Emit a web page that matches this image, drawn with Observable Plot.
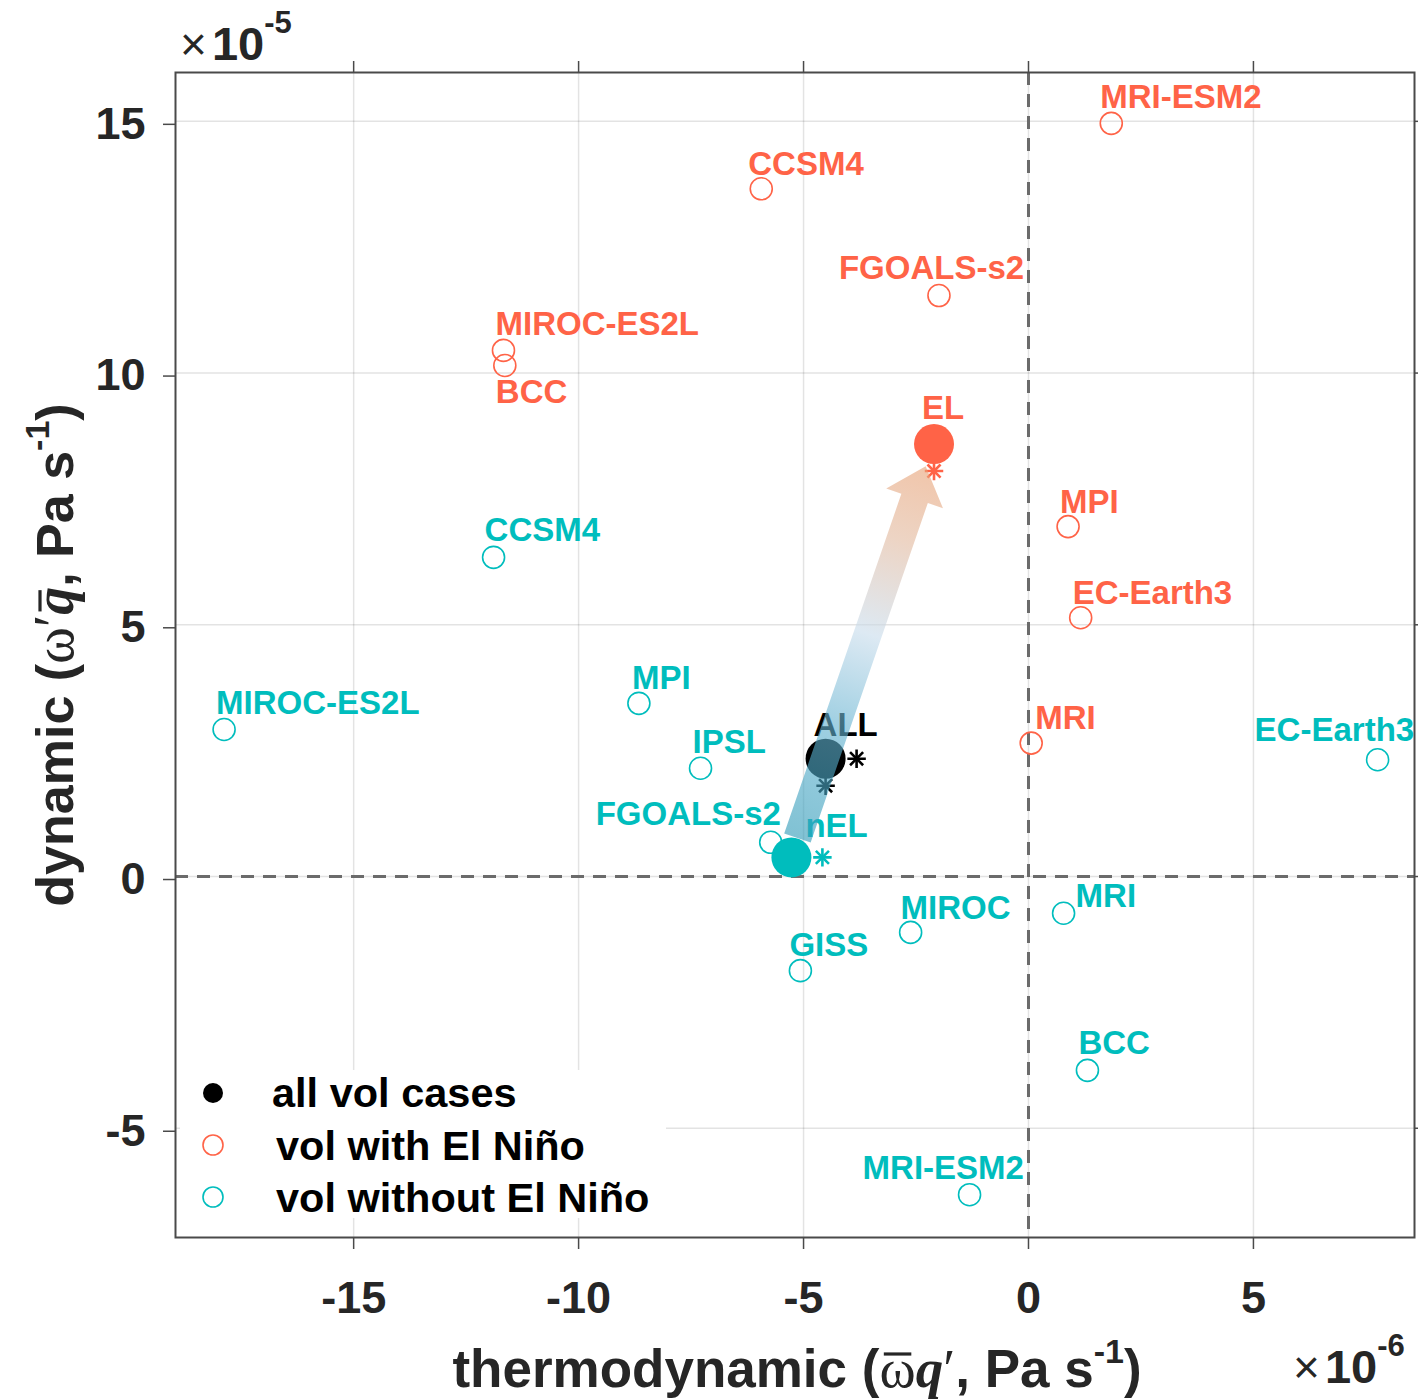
<!DOCTYPE html>
<html><head><meta charset="utf-8">
<script src="https://cdn.jsdelivr.net/npm/d3@7"></script>
<script src="https://cdn.jsdelivr.net/npm/@observablehq/plot@0.6"></script>
<style>body{margin:0;background:#fff} #chart svg{display:block}</style>
</head><body><div id="chart"></div>
<script>
// ---------- data (units: x ×1e-6, y ×1e-5 Pa s^-1) ----------
const xTicks = [-15, -10, -5, 0, 5];
const yTicks = [-5, 0, 5, 10, 15];

const elModels = ["MRI-ESM2", "CCSM4", "FGOALS-s2", "MIROC-ES2L", "BCC", "MPI", "EC-Earth3", "MRI"];
const elX      = [1.84, -5.94, -1.99, -11.67, -11.64, 0.88, 1.16, 0.06];
const elY      = [14.96, 13.66, 11.54, 10.45, 10.15, 6.95, 5.14, 2.65];

const nelModels = ["CCSM4", "MIROC-ES2L", "MPI", "IPSL", "FGOALS-s2", "MIROC", "GISS", "MRI", "BCC", "MRI-ESM2", "EC-Earth3"];
const nelX      = [-11.89, -17.88, -8.66, -7.29, -5.73, -2.62, -5.07, 0.78, 1.31, -1.31, 7.76];
const nelY      = [6.34, 2.92, 3.44, 2.15, 0.68, -1.11, -1.87, -0.73, -3.85, -6.32, 2.32];

const compNames     = ["ALL", "EL", "nEL"];
const compX         = [-4.51, -2.10, -5.27];
const compY         = [2.34, 8.59, 0.38];
const compStarRight = [true, false, true];
const compStarBelow = [true, true, false];

const legendLabels = ["all vol cases", "vol with El Niño", "vol without El Niño"];

// ---------- styles ----------
const RED = "#FF6347", CYAN = "#00BDBD", BLACK = "#000000";
const compColor = {ALL: BLACK, EL: RED, nEL: CYAN};
const FONT = "'Liberation Sans', Arial, Helvetica, sans-serif";
const SERIF = "'Liberation Serif', 'Times New Roman', serif";
// label nudges in pixels [dx, dy] (text start, baseline) relative to the point
const defaultNudge = [-9, -15];
const labelNudge = {
  "EL|MRI-ESM2": [-11, -15], "EL|CCSM4": [-13, -14], "EL|FGOALS-s2": [-100, -17],
  "EL|MIROC-ES2L": [-8, -15], "EL|BCC": [-9, 37], "EL|MPI": [-8, -14],
  "EL|EC-Earth3": [-8, -14], "EL|MRI": [4, -14],
  "nEL|CCSM4": [-9, -16], "nEL|MIROC-ES2L": [-8, -16], "nEL|MPI": [-7, -14],
  "nEL|IPSL": [-8, -15], "nEL|FGOALS-s2": [-175, -17], "nEL|MIROC": [-10, -13],
  "nEL|GISS": [-11, -15], "nEL|MRI": [12, -6], "nEL|BCC": [-9, -16],
  "nEL|MRI-ESM2": [-107, -16], "nEL|EC-Earth3": [-123, -19],
  "comp|ALL": [-12, -23], "comp|EL": [-12, -25], "comp|nEL": [14, -20]
};

// ---------- tables ----------
const el  = elModels.map((m, i) => ({name: m, x: elX[i], y: elY[i], group: "EL"}));
const nel = nelModels.map((m, i) => ({name: m, x: nelX[i], y: nelY[i], group: "nEL"}));
const comp = compNames.map((m, i) => ({name: m, x: compX[i], y: compY[i], right: compStarRight[i], below: compStarBelow[i], color: compColor[m]}));
const byName = Object.fromEntries(comp.map(d => [d.name, d]));

function labelMarks(rows, key, colorOf) {
  return rows.map(d => {
    const [dx, dy] = labelNudge[key + "|" + d.name] || defaultNudge;
    return Plot.text([d], {x: "x", y: "y", text: "name", dx, dy, textAnchor: "start", lineAnchor: "bottom",
      fill: colorOf(d), fontSize: 33, fontWeight: "bold", fontFamily: FONT});
  });
}

// gradient arrow from the non-El Niño composite to the El Niño composite
function arrowRender(index, scales, values) {
  const i = index[0];
  const ax = values.x1[i], ay = values.y1[i], bx = values.x2[i], by = values.y2[i];
  const L = Math.hypot(bx - ax, by - ay);
  const ux = (bx - ax) / L, uy = (by - ay) / L, nx = -uy, ny = ux;
  const T = [ax + ux * 20, ay + uy * 20];
  const P = [bx - ux * 24, by - uy * 24];
  const headLen = 34, shaft = 14, head = 30;
  const B = [P[0] - ux * headLen, P[1] - uy * headLen];
  const pts = [
    [T[0] + nx * shaft, T[1] + ny * shaft], [B[0] + nx * shaft, B[1] + ny * shaft],
    [B[0] + nx * head, B[1] + ny * head], P,
    [B[0] - nx * head, B[1] - ny * head], [B[0] - nx * shaft, B[1] - ny * shaft],
    [T[0] - nx * shaft, T[1] - ny * shaft]
  ];
  const g = d3.create("svg:g");
  const grad = g.append("defs").append("linearGradient").attr("id", "arrowGrad")
    .attr("gradientUnits", "userSpaceOnUse")
    .attr("x1", T[0]).attr("y1", T[1]).attr("x2", P[0]).attr("y2", P[1]);
  [[0, "rgb(50,156,185)"], [0.3, "rgb(100,178,208)"], [0.55, "rgb(200,220,236)"], [0.8, "rgb(226,186,160)"], [1, "rgb(232,162,118)"]]
    .forEach(([o, c]) => grad.append("stop").attr("offset", o).attr("stop-color", c));
  g.append("path").attr("d", "M" + pts.map(p => p.join(",")).join("L") + "Z")
    .attr("fill", "url(#arrowGrad)").attr("fill-opacity", 0.62);
  return g.node();
}

const chart = Plot.plot({
  width: 1418, height: 1399,
  marginLeft: 175, marginRight: 4, marginTop: 72, marginBottom: 162,
  x: {domain: [-18.96, 8.58]},
  y: {domain: [-7.17, 15.97]},
  style: {fontFamily: FONT, fontWeight: "bold", color: "#262626", background: "#fff"},
  marks: [
    Plot.gridX(xTicks, {stroke: "#000", strokeOpacity: 0.11, strokeWidth: 1.5}),
    Plot.gridY(yTicks, {stroke: "#000", strokeOpacity: 0.11, strokeWidth: 1.5}),
    Plot.ruleX([0], {stroke: "#6b6b6b", strokeWidth: 3, strokeDasharray: "13,9"}),
    Plot.ruleY([0], {stroke: "#6b6b6b", strokeWidth: 3, strokeDasharray: "13,9"}),
    Plot.frame({stroke: "#4a4a4a", strokeWidth: 2}),
    Plot.axisX(xTicks, {anchor: "bottom", tickSize: 12, tickPadding: 32, tickFormat: d => String(d), fontSize: 45, fontWeight: "bold", fontFamily: FONT, label: null, stroke: "#4a4a4a", strokeWidth: 1.5}),
    Plot.axisX(xTicks, {anchor: "top", tickSize: 12, tickFormat: () => "", label: null, stroke: "#4a4a4a", strokeWidth: 1.5}),
    Plot.axisY(yTicks, {anchor: "left", tickSize: 12, tickPadding: 18, tickFormat: d => String(d), fontSize: 45, fontWeight: "bold", fontFamily: FONT, dy: 3, label: null, stroke: "#4a4a4a", strokeWidth: 1.5}),
    Plot.axisY(yTicks, {anchor: "right", tickSize: 12, tickFormat: () => "", label: null, stroke: "#4a4a4a", strokeWidth: 1.5}),
    // model points
    Plot.dot(el, {x: "x", y: "y", r: 11, stroke: RED, strokeWidth: 1.6, fill: "none"}),
    Plot.dot(nel, {x: "x", y: "y", r: 11, stroke: CYAN, strokeWidth: 1.6, fill: "none"}),
    ...labelMarks(el, "EL", () => RED),
    ...labelMarks(nel, "nEL", () => CYAN),
    ...labelMarks(comp, "comp", d => d.color),
    // composites
    Plot.dot(comp, {x: "x", y: "y", r: 20, fill: "color"}),
    Plot.dot(comp.filter(d => d.right), {x: "x", y: "y", dx: 31, symbol: "plus", r: 6, stroke: "color", strokeWidth: 2.6}),
    Plot.dot(comp.filter(d => d.right), {x: "x", y: "y", dx: 31, symbol: "times", r: 6, stroke: "color", strokeWidth: 2.6}),
    Plot.dot(comp.filter(d => d.below), {x: "x", y: "y", dy: 27, symbol: "plus", r: 6, stroke: "color", strokeWidth: 2.6}),
    Plot.dot(comp.filter(d => d.below), {x: "x", y: "y", dy: 27, symbol: "times", r: 6, stroke: "color", strokeWidth: 2.6}),
    Plot.link([{from: byName.nEL, to: byName.EL}], {
      x1: d => d.from.x, y1: d => d.from.y, x2: d => d.to.x, y2: d => d.to.y,
      stroke: "none", render: arrowRender
    })
  ]
});

document.getElementById("chart").appendChild(chart);

// ---------- annotations: exponents, axis titles, legend ----------
const svg = d3.select(chart);
const ann = svg.append("g").attr("font-family", FONT).attr("text-anchor", "start");

function exponent(x, y, exp) {
  const t = ann.append("text").attr("x", x).attr("y", y).attr("fill", "#262626").attr("text-anchor", "start");
  t.append("tspan").attr("font-weight", "normal").attr("font-size", 46).text("×");
  t.append("tspan").attr("font-weight", "bold").attr("font-size", 47).attr("dx", 5).text("10");
  t.append("tspan").attr("font-weight", "bold").attr("font-size", 31).attr("dy", -27).text(exp);
}
exponent(180, 60, "-5");
exponent(1293, 1383, "-6");

// overbar drawn above a given character of a text element (in the text's own coordinates)
function overbar(group, textSel, charIndex, lift) {
  const node = textSel.node();
  const e = node.getExtentOfChar(charIndex);
  const p = node.getStartPositionOfChar(charIndex);
  group.append("line")
    .attr("x1", e.x + e.width * 0.12).attr("x2", e.x + e.width * 0.88)
    .attr("y1", p.y - lift).attr("y2", p.y - lift)
    .attr("stroke", "#262626").attr("stroke-width", 3.2);
}

// x-axis title
{
  const g = ann.append("g");
  const t = g.append("text").attr("x", 797).attr("y", 1387).attr("text-anchor", "middle")
    .attr("font-size", 53).attr("font-weight", "bold").attr("fill", "#262626");
  t.append("tspan").text("thermodynamic (");
  t.append("tspan").attr("font-family", SERIF).attr("font-weight", "normal").attr("font-size", 55).text("ω");
  t.append("tspan").attr("font-family", SERIF).attr("font-style", "italic").attr("font-size", 55).text("q");
  t.append("tspan").attr("font-family", SERIF).attr("font-weight", "normal").attr("font-size", 55).text("′");
  t.append("tspan").text(", Pa s");
  t.append("tspan").attr("font-size", 34).attr("dy", -24).text("-1");
  t.append("tspan").attr("dy", 24).text(")");
  overbar(g, t, 15, 33);
}
// y-axis title
{
  const g = ann.append("g").attr("transform", "translate(73,655) rotate(-90)");
  const t = g.append("text").attr("x", 0).attr("y", 0).attr("text-anchor", "middle")
    .attr("font-size", 52).attr("font-weight", "bold").attr("fill", "#262626");
  t.append("tspan").text("dynamic (");
  t.append("tspan").attr("font-family", SERIF).attr("font-weight", "normal").attr("font-size", 56).text("ω′");
  t.append("tspan").attr("font-family", SERIF).attr("font-style", "italic").attr("font-size", 56).text("q");
  t.append("tspan").text(", Pa s");
  t.append("tspan").attr("font-size", 34).attr("dy", -24).text("-1");
  t.append("tspan").attr("dy", 24).text(")");
  overbar(g, t, 11, 33);
}
// legend
{
  const lg = ann.append("g");
  lg.append("rect").attr("x", 180).attr("y", 1070).attr("width", 486).attr("height", 148).attr("fill", "#fff");
  const rows = [
    {label: legendLabels[0], fill: BLACK, stroke: "none", cy: 1093, tx: 272, ty: 1107},
    {label: legendLabels[1], fill: "none", stroke: RED, cy: 1145, tx: 276, ty: 1160},
    {label: legendLabels[2], fill: "none", stroke: CYAN, cy: 1197, tx: 276, ty: 1212}
  ];
  rows.forEach(r => {
    lg.append("circle").attr("cx", 213).attr("cy", r.cy).attr("r", 10)
      .attr("fill", r.fill).attr("stroke", r.stroke).attr("stroke-width", 1.6);
    lg.append("text").attr("x", r.tx).attr("y", r.ty).attr("text-anchor", "start").attr("font-size", 41.5).attr("font-weight", "bold")
      .attr("fill", "#000").text(r.label);
  });
}
</script></body></html>
